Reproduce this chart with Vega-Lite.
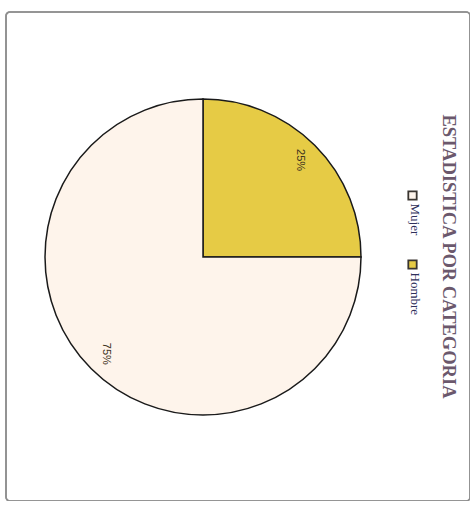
{
  "$schema": "https://vega.github.io/schema/vega-lite/v6.json",
  "width": 464,
  "height": 489,
  "autosize": {"type": "none"},
  "padding": {"left": 6, "top": 12, "right": 0, "bottom": 0},
  "background": "white",
  "config": {"view": {"stroke": null}},
  "title": {
    "text": "ESTADISTICA POR CATEGORIA",
    "orient": "right",
    "anchor": "middle",
    "offset": -31,
    "font": "Liberation Serif",
    "fontSize": 18.5,
    "fontWeight": "bold",
    "color": "#6b586c"
  },
  "data": {"values": [
    {"categoria": "Hombre", "porcentaje": 25, "etiqueta": "25%"},
    {"categoria": "Mujer", "porcentaje": 75, "etiqueta": "75%"}
  ]},
  "layer": [
    {
      "mark": {"type": "rect", "fill": null, "stroke": "#8f8f8f", "strokeWidth": 1.6, "cornerRadius": 4},
      "encoding": {}
    },
    {
      "mark": {"type": "arc", "outerRadius": 158, "stroke": "#1a1a1a", "strokeWidth": 1.5,
               "x": {"expr": "width/2 - 35"}, "y": {"expr": "height/2 + 0.5"}},
      "encoding": {
        "theta": {"field": "porcentaje", "type": "quantitative", "stack": true},
        "order": {"field": "categoria", "sort": "ascending"},
        "color": {
          "field": "categoria", "type": "nominal",
          "scale": {"domain": ["Mujer", "Hombre"], "range": ["#fef4eb", "#e6cb45"]},
          "legend": {
            "orient": "none", "legendX": 400, "legendY": 177,
            "title": null, "direction": "vertical",
            "symbolType": "square", "symbolSize": 70,
            "symbolStrokeColor": "#3a3530", "symbolStrokeWidth": 1.8,
            "labelFont": "Liberation Serif", "labelFontSize": 13, "labelColor": "#2e2f5a",
            "labelOffset": -4, "rowPadding": 20,
            "encode": {"labels": {"update": {
              "angle": {"value": 90}, "dx": {"value": 8},
              "align": {"value": "left"}, "baseline": {"value": "middle"}
            }}}
          }
        }
      }
    },
    {
      "mark": {"type": "text", "radius": 137, "angle": 90, "font": "Liberation Sans", "fontSize": 11, "fill": "#3a3020",
               "x": {"expr": "width/2 - 35"}, "y": {"expr": "height/2 + 0.5"}},
      "encoding": {
        "theta": {"field": "porcentaje", "type": "quantitative", "stack": true},
        "order": {"field": "categoria", "sort": "ascending"},
        "text": {"field": "etiqueta", "type": "nominal"}
      }
    }
  ]
}
